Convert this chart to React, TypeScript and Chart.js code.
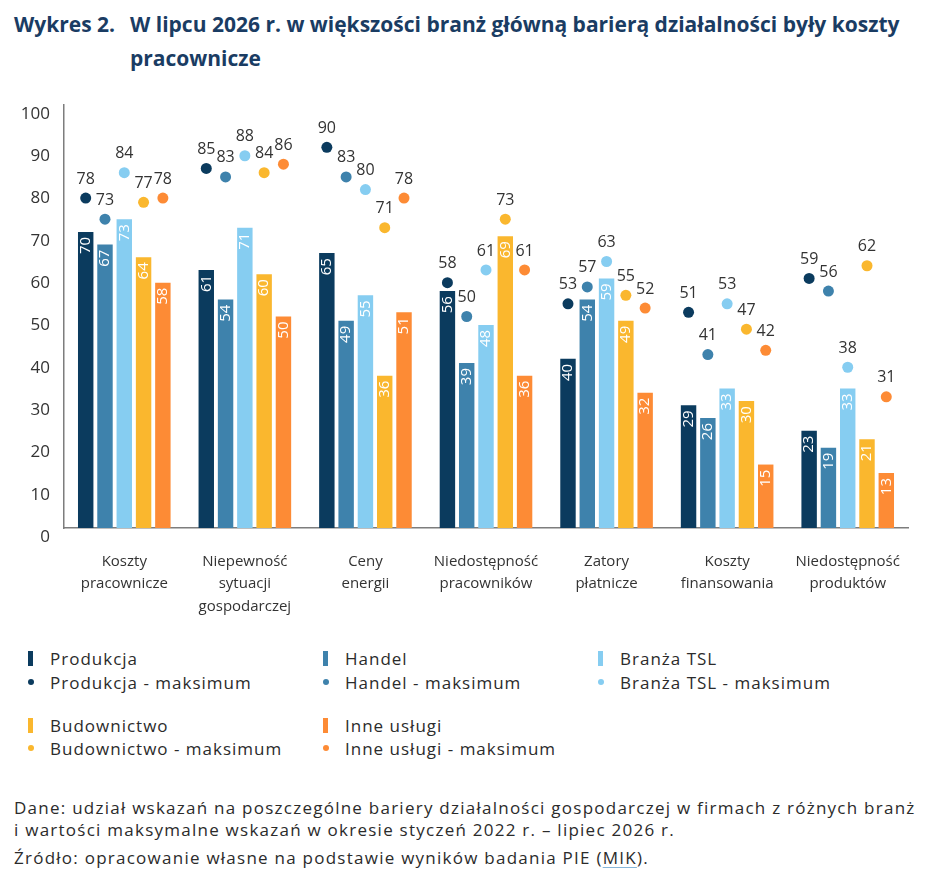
import React, { useEffect, useRef } from 'react';
import { Chart, registerables } from 'chart.js';

Chart.register(...registerables);

const FONT = '"Open Sans", "Noto Sans", sans-serif';

const categories = [
  ['Koszty', 'pracownicze'],
  ['Niepewność', 'sytuacji', 'gospodarczej'],
  ['Ceny', 'energii'],
  ['Niedostępność', 'pracowników'],
  ['Zatory', 'płatnicze'],
  ['Koszty', 'finansowania'],
  ['Niedostępność', 'produktów'],
];

const seriesNames = ['Produkcja', 'Handel', 'Branża TSL', 'Budownictwo', 'Inne usługi'];
const seriesColors = ['#0b3b5e', '#3e82ac', '#86cdf1', '#fab72e', '#fd8b35'];

// values in July 2026
const produkcja = [70, 61, 65, 56, 40, 29, 23];
const handel = [67, 54, 49, 39, 54, 26, 19];
const tsl = [73, 71, 55, 48, 59, 33, 33];
const budownictwo = [64, 60, 36, 69, 49, 30, 21];
const inne = [58, 50, 51, 36, 32, 15, 13];

// maximum values Jan 2022 - Jul 2026
const produkcjaMax = [78, 85, 90, 58, 53, 51, 59];
const handelMax = [73, 83, 83, 50, 57, 41, 56];
const tslMax = [84, 88, 80, 61, 63, 53, 38];
const budownictwoMax = [77, 84, 71, 73, 55, 47, 62];
const inneMax = [78, 86, 78, 61, 52, 42, 31];

const yMin = 0;
const yMax = 100;
const yStep = 10;

const seriesValues = [produkcja, handel, tsl, budownictwo, inne];
const seriesMax = [produkcjaMax, handelMax, tslMax, budownictwoMax, inneMax];

// draws value labels inside bars and the "maksimum" dots with their labels
const overlayPlugin = {
  id: 'overlay',
  afterDatasetsDraw(chart: Chart) {
    const ctx = chart.ctx;
    const yScale = chart.scales.y;
    seriesValues.forEach((vals, j) => {
      const meta = chart.getDatasetMeta(j);
      meta.data.forEach((el: any, i: number) => {
        // bar label
        ctx.save();
        ctx.translate(el.x, el.y + 5);
        ctx.rotate(-Math.PI / 2);
        ctx.fillStyle = '#ffffff';
        ctx.font = `15px ${FONT}`;
        ctx.textAlign = 'right';
        ctx.textBaseline = 'middle';
        ctx.fillText(String(vals[i]), 0, 0);
        ctx.restore();

        // max dot
        const m = seriesMax[j][i];
        const py = yScale.getPixelForValue(m);
        ctx.save();
        ctx.beginPath();
        ctx.arc(el.x, py, 5.5, 0, Math.PI * 2);
        ctx.fillStyle = seriesColors[j];
        ctx.fill();
        ctx.fillStyle = '#333333';
        ctx.font = `16px ${FONT}`;
        ctx.textAlign = 'center';
        ctx.textBaseline = 'middle';
        ctx.fillText(String(m), el.x, py - 19);
        ctx.restore();
      });
    });
  },
};

const BarrierChart: React.FC = () => {
  const chartRef = useRef<HTMLCanvasElement | null>(null);
  const chartInstanceRef = useRef<Chart | null>(null);

  useEffect(() => {
    if (!chartRef.current) return;
    if (chartInstanceRef.current) chartInstanceRef.current.destroy();

    chartInstanceRef.current = new Chart(chartRef.current, {
      type: 'bar',
      data: {
        labels: categories,
        datasets: seriesValues.map((vals, j) => ({
          label: seriesNames[j],
          data: vals,
          backgroundColor: seriesColors[j],
          borderWidth: 0,
          barPercentage: 0.8,
          categoryPercentage: 0.8,
        })),
      },
      options: {
        responsive: false,
        animation: false,
        layout: { padding: { top: 15, right: 22, left: 0, bottom: 0 } },
        plugins: {
          legend: { display: false },
          tooltip: { enabled: false },
        },
        scales: {
          x: {
            grid: { display: false, drawTicks: false },
            border: { color: '#7d7d7d', width: 1.5 },
            ticks: {
              color: '#333333',
              font: { family: FONT, size: 15, lineHeight: 1.5 },
              padding: 22,
              maxRotation: 0,
              autoSkip: false,
            },
            afterFit: (s: any) => {
              s.height = 102;
            },
          },
          y: {
            min: yMin,
            max: yMax,
            grid: { display: false, drawTicks: false },
            border: { color: '#7d7d7d', width: 1.5 },
            ticks: {
              stepSize: yStep,
              labelOffset: 9,
              padding: 14,
              color: '#333333',
              font: { family: FONT, size: 17 },
            },
            afterFit: (s: any) => {
              s.width = 64;
              s.paddingTop = 0;
              s.paddingBottom = 0;
            },
          },
        },
      },
      plugins: [overlayPlugin],
    });

    return () => {
      if (chartInstanceRef.current) {
        chartInstanceRef.current.destroy();
        chartInstanceRef.current = null;
      }
    };
  }, []);

  return (
    <canvas
      ref={chartRef}
      width={930}
      height={540}
      style={{ position: 'absolute', left: 0, top: 90, width: 930, height: 540 }}
    />
  );
};

const legendRows = [
  { top: 647, items: [0, 1, 2], max: false },
  { top: 671, items: [0, 1, 2], max: true },
  { top: 714, items: [3, 4], max: false },
  { top: 737, items: [3, 4], max: true },
];
const legendCols = [28, 323, 598];

const textStyle = { fontSize: 17, letterSpacing: '1px', color: '#2b2b2b' };

const App: React.FC = () => {
  return (
    <div
      style={{
        position: 'relative',
        width: 930,
        height: 892,
        background: '#ffffff',
        overflow: 'hidden',
        fontFamily: FONT,
      }}
    >
      <style>{'body{margin:0}'}</style>
      <div
        style={{
          position: 'absolute',
          left: 14,
          top: 7,
          fontSize: 21,
          fontWeight: 700,
          color: '#1a3c63',
          lineHeight: '34px',
        }}
      >
        Wykres 2.
      </div>
      <div
        style={{
          position: 'absolute',
          left: 130,
          top: 7,
          width: 790,
          fontSize: 21,
          fontWeight: 700,
          color: '#1a3c63',
          lineHeight: '34px',
        }}
      >
        W lipcu 2026 r. w większości branż główną barierą działalności były koszty pracownicze
      </div>

      <BarrierChart />

      {legendRows.map((row, r) =>
        row.items.map((j, c) => (
          <div
            key={`${r}-${c}`}
            style={{
              position: 'absolute',
              left: legendCols[c],
              top: row.top,
              height: 22,
              display: 'flex',
              alignItems: 'center',
              whiteSpace: 'nowrap',
              ...textStyle,
            }}
          >
            {row.max ? (
              <span
                style={{
                  display: 'inline-block',
                  width: 6,
                  height: 6,
                  borderRadius: 3,
                  background: seriesColors[j],
                  marginRight: 16,
                }}
              />
            ) : (
              <span
                style={{
                  display: 'inline-block',
                  width: 5,
                  height: 15,
                  background: seriesColors[j],
                  marginRight: 17,
                }}
              />
            )}
            {row.max ? `${seriesNames[j]} - maksimum` : seriesNames[j]}
          </div>
        ))
      )}

      <div
        style={{
          position: 'absolute',
          left: 14,
          top: 797,
          width: 916,
          lineHeight: '22px',
          whiteSpace: 'nowrap',
          ...textStyle,
          letterSpacing: '1.25px',
        }}
      >
        Dane: udział wskazań na poszczególne bariery działalności gospodarczej w firmach z różnych branż
        <br />i wartości maksymalne wskazań w okresie styczeń 2022 r. – lipiec 2026 r.
      </div>
      <div
        style={{
          position: 'absolute',
          left: 14,
          top: 847,
          lineHeight: '22px',
          whiteSpace: 'nowrap',
          ...textStyle,
          letterSpacing: '1.25px',
        }}
      >
        Źródło: opracowanie własne na podstawie wyników badania PIE (
        <span style={{ textDecoration: 'underline', textDecorationColor: '#86b6d9', textUnderlineOffset: 3 }}>
          MIK
        </span>
        ).
      </div>
    </div>
  );
};

export default App;
